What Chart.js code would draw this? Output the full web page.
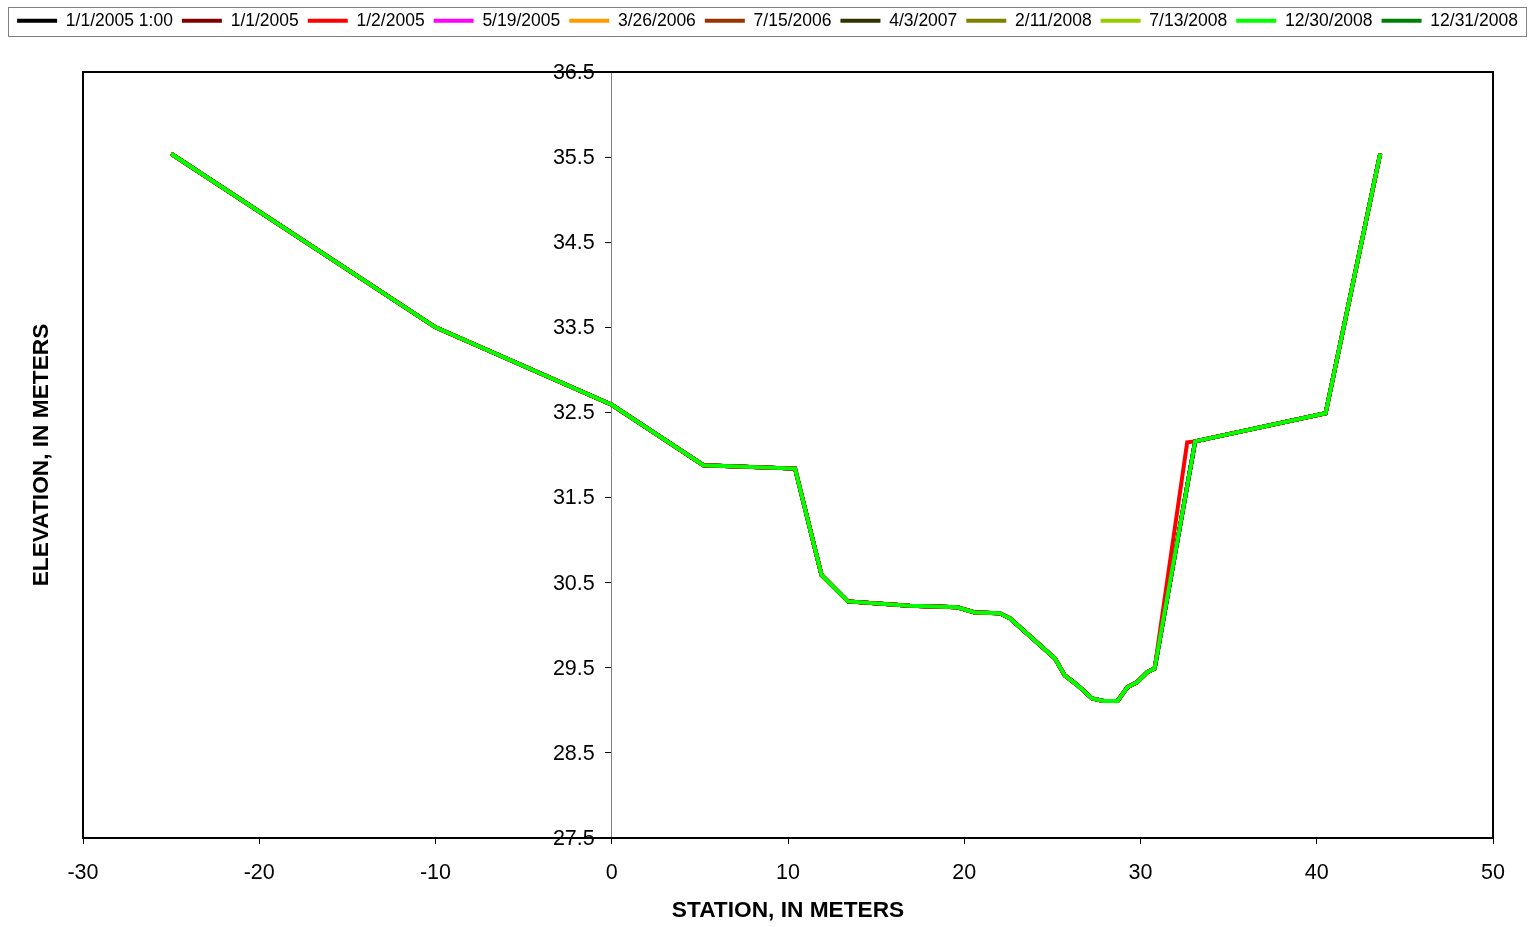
<!DOCTYPE html>
<html>
<head>
<meta charset="utf-8">
<script src="https://cdn.jsdelivr.net/npm/chart.js@4.4.1/dist/chart.umd.min.js"></script>
<style>
  html, body { margin: 0; padding: 0; background: #ffffff; }
  canvas { display: block; }
</style>
</head>
<body>
<canvas id="c" width="1533" height="927"></canvas>
<script>
// ---- Data ----
const seriesLabels = ['1/1/2005 1:00', '1/1/2005', '1/2/2005', '5/19/2005', '3/26/2006', '7/15/2006',
                      '4/3/2007', '2/11/2008', '7/13/2008', '12/30/2008', '12/31/2008'];
const seriesColors = ['#000000', '#800000', '#FF0000', '#FF00FF', '#FF9900', '#993300',
                      '#333300', '#808000', '#99CC00', '#00FF00', '#008000'];

// Common surveyed cross-section (all surveys except 1/2/2005)
const stationsMain = [-25, -10, 0, 5.2, 10.4, 11.9, 13.4, 16.9, 19.6, 20.6, 22.0, 22.6, 25.15, 25.7,
                      26.4, 27.25, 27.9, 28.7, 29.25, 29.8, 30.4, 30.8, 33.1, 40.5, 43.6];
const elevMain     = [35.54, 33.50, 32.59, 31.88, 31.84, 30.59, 30.28, 30.23, 30.21, 30.15, 30.14, 30.08, 29.61, 29.41,
                      29.30, 29.14, 29.11, 29.11, 29.27, 29.33, 29.45, 29.49, 32.16, 32.49, 35.54];

// 1/2/2005 survey (left bank slightly different)
const stationsJan2 = [-25, -10, 0, 5.2, 10.4, 11.9, 13.4, 16.9, 19.6, 20.6, 22.0, 22.6, 25.15, 25.7,
                      26.4, 27.25, 27.9, 28.7, 29.25, 29.8, 30.4, 30.8, 32.65, 33.1, 40.5, 43.6];
const elevJan2     = [35.54, 33.50, 32.59, 31.88, 31.84, 30.59, 30.28, 30.23, 30.21, 30.15, 30.14, 30.08, 29.61, 29.41,
                      29.30, 29.14, 29.11, 29.11, 29.27, 29.33, 29.45, 29.49, 32.15, 32.16, 32.49, 35.54];

const xTickValues = [-30, -20, -10, 0, 10, 20, 30, 40, 50];
const yTickValues = [27.5, 28.5, 29.5, 30.5, 31.5, 32.5, 33.5, 34.5, 35.5, 36.5];

const FONT = '"Liberation Sans", Arial, sans-serif';

function toPoints(xs, ys) { return xs.map((x, i) => ({ x: x, y: ys[i] })); }

const datasets = seriesLabels.map((lab, i) => {
  const isJan2 = lab === '1/2/2005';
  const isTop = lab === '12/30/2008';
  return {
    label: lab,
    data: isJan2 ? toPoints(stationsJan2, elevJan2) : toPoints(stationsMain, elevMain),
    borderColor: seriesColors[i],
    backgroundColor: seriesColors[i],
    borderWidth: 4,
    pointRadius: 0,
    pointHoverRadius: 0,
    tension: 0,
    fill: false,
    xAxisID: 'x',
    yAxisID: 'y',
    order: isTop ? 0 : (isJan2 ? 1 : 2 + i)
  };
});

const framePlugin = {
  id: 'framePlugin',
  afterDraw(chart) {
    const ctx = chart.ctx;
    const a = chart.chartArea;
    ctx.save();
    // plot frame
    ctx.strokeStyle = '#000000';
    ctx.lineWidth = 2;
    ctx.strokeRect(a.left, a.top, a.right - a.left, a.bottom - a.top);
    // legend border
    const lg = chart.legend;
    ctx.strokeStyle = '#808080';
    ctx.lineWidth = 1;
    ctx.strokeRect(lg.left + 0.5, lg.top + 4.5, lg.width - 1, 29);
    // y tick labels, placed through the y scale, left of the axis that crosses at x = 0
    const ys = chart.scales.y;
    const axisX = chart.scales.x.getPixelForValue(0);
    ctx.fillStyle = '#000000';
    ctx.font = '21.5px ' + FONT;
    ctx.textAlign = 'right';
    ctx.textBaseline = 'middle';
    yTickValues.forEach(v => {
      ctx.fillText(v.toFixed(1), axisX - 17, ys.getPixelForValue(v) + 1);
    });
    // y axis title
    ctx.font = 'bold 22.7px ' + FONT;
    ctx.textAlign = 'center';
    ctx.translate(a.left - 41, (a.top + a.bottom) / 2);
    ctx.rotate(-Math.PI / 2);
    ctx.fillText('ELEVATION, IN METERS', 0, 0);
    ctx.restore();
  }
};

new Chart(document.getElementById('c'), {
  type: 'line',
  data: { datasets: datasets },
  options: {
    responsive: false,
    devicePixelRatio: 1,
    animation: false,
    events: [],
    layout: { padding: { left: 8, right: 6, top: 3, bottom: 0 } },
    plugins: {
      tooltip: { enabled: false },
      legend: {
        display: true,
        position: 'top',
        labels: {
          usePointStyle: true,
          pointStyle: 'line',
          pointStyleWidth: 40,
          padding: 9,
          color: '#000000',
          font: { family: FONT, size: 17.5 },
          sort: (a, b) => a.datasetIndex - b.datasetIndex
        }
      }
    },
    scales: {
      x: {
        type: 'linear',
        position: 'bottom',
        min: -30,
        max: 50,
        afterBuildTicks: s => { s.ticks = xTickValues.map(v => ({ value: v })); },
        afterFit: s => { s.height = 89; },
        grid: { display: true, drawOnChartArea: false, drawTicks: true, tickLength: 6, color: '#000000', lineWidth: 1 },
        border: { display: false },
        ticks: { color: '#000000', font: { family: FONT, size: 21.5 }, padding: 16, maxRotation: 0, autoSkip: false,
                 callback: v => String(v) },
        title: { display: true, text: 'STATION, IN METERS', color: '#000000',
                 font: { family: FONT, size: 22.7, weight: 'bold' }, padding: { top: 0, bottom: 3 } }
      },
      y: {
        type: 'linear',
        position: { x: 0 },
        min: 27.5,
        max: 36.5,
        afterBuildTicks: s => { s.ticks = yTickValues.map(v => ({ value: v })); },
        grid: { display: true, drawOnChartArea: false, drawTicks: true, tickLength: 6, color: '#000000', lineWidth: 1 },
        border: { display: true, color: '#808080', width: 1 },
        ticks: { display: false }
      },
      yl: {
        type: 'linear', position: 'left', display: true,
        grid: { display: false }, border: { display: false }, ticks: { display: false },
        afterFit: s => { s.width = 75; }
      },
      yr: {
        type: 'linear', position: 'right', display: true,
        grid: { display: false }, border: { display: false }, ticks: { display: false },
        afterFit: s => { s.width = 34; }
      },
      xt: {
        type: 'linear', position: 'top', display: true,
        grid: { display: false }, border: { display: false }, ticks: { display: false },
        afterFit: s => { s.height = 32.5; }
      }
    }
  },
  plugins: [framePlugin]
});
</script>
</body>
</html>
